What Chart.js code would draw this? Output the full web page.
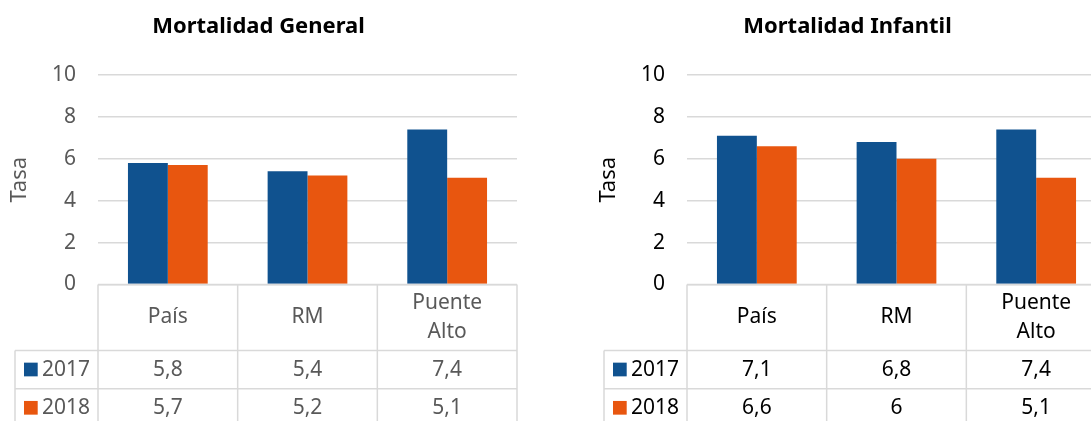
<!DOCTYPE html>
<html lang="es">
<head>
<meta charset="utf-8">
<title>Mortalidad</title>
<script src="https://cdn.jsdelivr.net/npm/chart.js@4.4.1/dist/chart.umd.min.js"></script>
<style>
  html, body { margin: 0; padding: 0; background: #fff; }
  body { width: 1091px; height: 421px; overflow: hidden; position: relative; }
  .box { position: absolute; top: 0; width: 520px; height: 421px; }
  #boxGeneral { left: 0; }
  #boxInfantil { left: 589px; }
</style>
</head>
<body>
<div class="box" id="boxGeneral"><canvas id="chartGeneral"></canvas></div>
<div class="box" id="boxInfantil"><canvas id="chartInfantil"></canvas></div>
<script>
// categories shown in the table header (multi-line where the cell wraps)
const categories = ['País', 'RM', ['Puente', 'Alto']];
const years = ['2017', '2018'];

// mortality rates per category
const general2017 = [5.8, 5.4, 7.4];
const general2018 = [5.7, 5.2, 5.1];
const infantil2017 = [7.1, 6.8, 7.4];
const infantil2018 = [6.6, 6, 5.1];

const blue = '#10528f';
const orange = '#e8560f';
const gridColor = '#d9d9d9';
const textSize = 21;

Chart.defaults.font.family = "'Noto Sans', sans-serif";

const fmt = (v) => String(v).replace('.', ',');

// draws the data table under the x axis (category row + one row per year)
const dataTable = {
  id: 'dataTable',
  afterDraw(chart, args, opts) {
    const { ctx, chartArea } = chart;
    const x = chart.scales.x;
    const labels = chart.data.labels;
    const sets = chart.data.datasets;
    const half = (x.getPixelForValue(1) - x.getPixelForValue(0)) / 2;
    const top = chartArea.bottom;
    const catBottom = top + 66;
    const rowH = 38.3;
    const legendLeft = 15;
    const end = catBottom + rowH * sets.length;
    const right = x.getPixelForValue(labels.length - 1) + half;

    ctx.save();
    ctx.strokeStyle = gridColor;
    ctx.lineWidth = 1.5;
    const line = (x1, y1, x2, y2) => {
      ctx.beginPath(); ctx.moveTo(x1, y1); ctx.lineTo(x2, y2); ctx.stroke();
    };
    line(chartArea.left, top, right, top);
    line(legendLeft, catBottom, right, catBottom);
    sets.forEach((ds, i) => line(legendLeft, catBottom + rowH * (i + 1), right, catBottom + rowH * (i + 1)));
    labels.forEach((lab, i) => {
      const cx = x.getPixelForValue(i) - half;
      line(cx, top, cx, end);
    });
    line(right, top, right, end);
    line(legendLeft, catBottom, legendLeft, end);

    ctx.fillStyle = opts.color;
    ctx.font = textSize + "px 'Noto Sans', sans-serif";
    ctx.textAlign = 'center';
    ctx.textBaseline = 'middle';

    // category header
    const catMid = (top + catBottom) / 2;
    labels.forEach((lab, i) => {
      const lines = Array.isArray(lab) ? lab : [lab];
      const cx = x.getPixelForValue(i);
      lines.forEach((t, j) => {
        ctx.fillText(t, cx, catMid + (j - (lines.length - 1) / 2) * 29);
      });
    });

    // value rows with legend keys
    sets.forEach((ds, r) => {
      const mid = catBottom + rowH * r + rowH / 2;
      ctx.fillStyle = ds.backgroundColor;
      ctx.fillRect(24, mid - 7, 13.7, 13.7);
      ctx.fillStyle = opts.color;
      ctx.textAlign = 'left';
      ctx.fillText(ds.label, 42, mid);
      ctx.textAlign = 'center';
      ds.data.forEach((v, i) => ctx.fillText(fmt(v), x.getPixelForValue(i), mid));
    });
    ctx.restore();
  }
};

function makeChart(id, title, d2017, d2018, textColor) {
  return new Chart(document.getElementById(id), {
    type: 'bar',
    data: {
      labels: categories,
      datasets: [
        { label: years[0], data: d2017, backgroundColor: blue },
        { label: years[1], data: d2018, backgroundColor: orange }
      ]
    },
    options: {
      responsive: true,
      maintainAspectRatio: false,
      animation: false,
      layout: { padding: { left: 0, right: 3, top: 0, bottom: 0 } },
      datasets: { bar: { categoryPercentage: 0.571, barPercentage: 1 } },
      scales: {
        x: {
          ticks: { display: false },
          grid: { display: false },
          border: { display: false },
          afterFit: (s) => { s.height = 136.5; }
        },
        y: {
          min: 0,
          max: 10,
          ticks: { stepSize: 2, padding: 22, color: textColor, font: { size: textSize } },
          grid: { color: gridColor, lineWidth: 1.5, drawTicks: false },
          border: { display: false },
          title: {
            display: true,
            text: 'Tasa',
            color: textColor,
            font: { size: 22 },
            padding: { top: 7, bottom: 0 }
          },
          afterFit: (s) => { s.width = 98; }
        }
      },
      plugins: {
        legend: { display: false },
        tooltip: { enabled: false },
        title: {
          display: true,
          text: title,
          color: '#000',
          font: { size: 22, weight: 'bold' },
          padding: { top: 14, bottom: 34.6 }
        },
        dataTable: { color: textColor }
      }
    },
    plugins: [dataTable]
  });
}

makeChart('chartGeneral', 'Mortalidad General', general2017, general2018, '#595959');
makeChart('chartInfantil', 'Mortalidad Infantil', infantil2017, infantil2018, '#000000');
</script>
</body>
</html>
